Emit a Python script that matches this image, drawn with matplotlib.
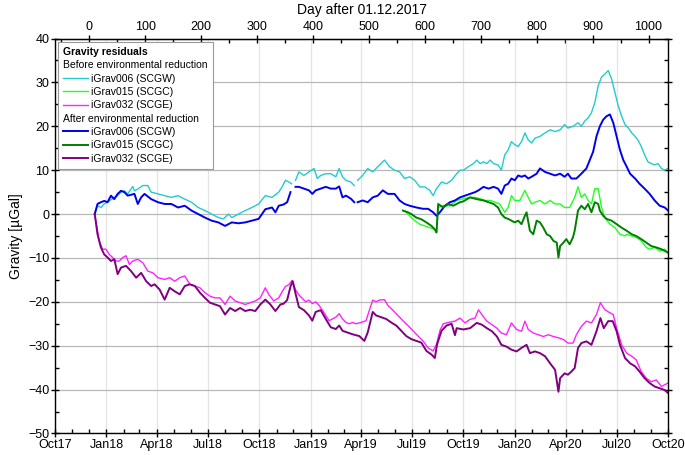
import numpy as np
import matplotlib
matplotlib.use("Agg")
import matplotlib.pyplot as plt
import matplotlib.dates as mdates
from matplotlib.lines import Line2D
from matplotlib.ticker import MultipleLocator, FixedLocator
from datetime import datetime

plt.rcParams['font.family'] = ['Liberation Sans', 'DejaVu Sans']

nan = np.nan

# days after 01.12.2017 and residuals in uGal
# iGrav006 (SCGW) before reduction
w_raw_day = [10, 15, 21, 27, 36, 45, 51, 57, 63, 69, 78, 81, 87, 96, 105, 111, 123, 135, 147, 159,
             171, 183, 195, 207, 219, 231, 240, 249, 255, 267, 279, 291, 303, 315, 327, 339,
             345, 351, 357, 362, 365, 369, 375, 384, 393, 402, 408, 414, 423, 432, 441, 447, 453,
             459, 468, 474, 477, 480, 489, 498, 507, 516, 528, 537, 546, 555, 564, 573, 582, 591,
             600, 609, 615, 621, 630, 639, 648, 657, 663, 669, 678, 687, 693, 699, 705, 711, 717,
             723, 731, 737, 743, 749, 755, 761, 767, 773, 779, 785, 791, 797, 806, 815, 824, 833,
             842, 850, 856, 865, 874, 880, 886, 892, 898, 904, 910, 916, 922, 928, 934, 940, 946,
             952, 958, 964, 970, 976, 981, 987, 993, 999, 1005, 1011, 1017, 1023, 1029, 1035]
w_raw_val = [0, 1.9, 1.5, 2.3, 3.0, 3.8, 4.2, 5.0, 5.3, 4.6, 6.3, 5.3, 5.7, 6.5, 6.5, 5.0, 4.6, 4.2, 3.8, 4.2,
             3.4, 2.7, 1.5, 0.8, 0.0, -0.8, -1.1, 0.0, -0.8, 0.0, 0.8, 1.5, 2.3, 4.2, 3.8, 5.0,
             6.2, 7.7, 7.3, 6.9, nan, 7.7, 9.6, 8.8, 9.6, 10.4, 8.1, 8.8, 9.2, 9.2, 8.5, 10.4, 8.5,
             7.7, 7.3, 6.5, nan, 7.7, 8.8, 10.4, 9.6, 10.8, 12.3, 10.8, 10.0, 9.6, 8.1, 8.5, 7.7, 6.2,
             6.2, 5.4, 4.2, 5.8, 7.3, 6.9, 7.7, 9.2, 10.0, 10.0, 10.8, 11.5, 12.3, 11.5, 11.9, 11.5, 12.3,
             11.5, 11.2, 10.0, 13.5, 14.6, 16.5, 15.8, 15.4, 16.5, 18.5, 16.9, 16.2, 17.3, 17.7, 18.5, 19.2, 18.8,
             19.2, 20.4, 19.6, 20.0, 20.8, 20.0, 21.2, 21.9, 23.1, 25.4, 29.2, 31.2, 31.9, 32.7, 30.8, 27.7, 24.6,
             22.3, 20.4, 19.6, 18.5, 17.7, 16.9, 15.4, 13.5, 11.9, 11.5, 11.2, 11.5, 10.4, 10.0, 10.4]

# iGrav015 (SCGC) before reduction
c_raw_day = [561, 567, 576, 582, 591, 600, 609, 618, 621, 624, 633, 645, 657, 669, 681, 690, 699, 708,
             717, 726, 734, 743, 749, 755, 761, 770, 779, 785, 791, 797, 806, 815, 824, 833, 842,
             850, 859, 868, 874, 880, 886, 892, 898, 904, 910, 916, 922, 931, 940, 949, 958, 961,
             970, 978, 987, 996, 1002, 1011, 1020, 1029, 1035]
c_raw_val = [0.8, 0.4, -0.8, -1.5, -2.3, -2.7, -3.1, -3.5, -4.0, 1.5, 1.9, 1.9, 3.1, 3.5, 3.8, 3.8, 3.5, 3.1,
             3.1, 2.7, 2.3, 0.4, 1.5, 4.2, 3.1, 3.1, 5.4, 3.8, 2.3, 2.7, 3.1, 2.3, 3.1, 2.3, 2.3,
             1.5, 1.5, 3.8, 6.2, 3.8, 4.6, 3.1, 2.3, 5.8, 5.8, 1.5, -0.8, -2.3, -3.1, -4.6, -5.0, -4.6,
             -5.0, -5.3, -6.1, -7.6, -8.0, -7.6, -8.4, -8.0, -8.8]

# iGrav032 (SCGE) before reduction
e_raw_day = [10, 14, 18, 24, 30, 36, 42, 48, 54, 60, 66, 72, 78, 87, 96, 105, 114, 123, 135, 144,
             153, 162, 171, 180, 189, 198, 207, 216, 225, 234, 243, 252, 261, 270, 279, 288, 297,
             306, 315, 321, 330, 339, 345, 351, 357, 363, 369, 375, 381, 387, 393, 399, 405, 411,
             417, 423, 429, 435, 441, 447, 453, 459, 465, 471, 477, 486, 495, 501, 507, 513, 519,
             528, 534, 543, 552, 561, 570, 579, 588, 597, 606, 615, 621, 627, 633, 642, 654, 663,
             672, 681, 690, 696, 702, 711, 720, 729, 737, 746, 755, 764, 773, 779, 785, 794, 803,
             812, 821, 830, 839, 848, 856, 865, 871, 880, 889, 898, 907, 914, 922, 931, 937, 943,
             952, 961, 970, 978, 987, 996, 1005, 1014, 1023, 1029, 1035]
e_raw_val = [0, -3.0, -6.1, -8.0, -8.0, -9.2, -9.9, -10.7, -10.7, -9.9, -9.5, -11.5, -10.7, -10.3, -11.1, -13.0, -13.4, -14.5, -14.9, -14.5,
             -15.3, -14.5, -14.1, -16.0, -16.4, -16.8, -17.9, -18.7, -19.1, -19.1, -20.6, -18.7, -19.8, -20.2, -20.6, -20.2, -19.8,
             -19.1, -16.8, -18.3, -19.8, -19.1, -17.7, -16.5, -16.1, -15.1, -17.3, -18.4, -19.2, -20.0, -19.6, -20.4, -20.0, -20.8,
             -21.9, -23.1, -24.3, -23.9, -23.5, -22.7, -23.9, -24.7, -25.0, -24.7, -25.0, -24.7, -24.3, -21.9, -19.6, -20.0, -19.6,
             -19.5, -20.8, -21.9, -23.1, -24.3, -25.4, -26.6, -27.8, -28.9, -30.5, -31.2, -29.7, -26.6, -25.0, -24.7, -24.4, -23.7,
             -24.8, -24.0, -23.7, -21.8, -22.9, -24.4, -25.2, -26.0, -27.1, -27.5, -24.8, -26.3, -26.7, -24.4, -26.3, -27.1, -27.5,
             -27.9, -27.5, -27.9, -28.2, -28.6, -29.4, -29.4, -27.5, -25.6, -24.4, -24.8, -22.9, -20.2, -21.8, -22.5, -22.9, -26.0,
             -29.8, -31.7, -32.4, -33.2, -35.9, -37.4, -38.2, -37.8, -39.3, -38.9, -38.5]

# iGrav006 (SCGW) after reduction
w_red_day = [10, 15, 21, 27, 33, 39, 45, 51, 57, 63, 69, 81, 87, 93, 99, 111, 123, 135, 147, 159,
             171, 183, 195, 207, 219, 231, 243, 255, 267, 279, 291, 303, 315, 327, 333, 339,
             348, 354, 360, 365, 369, 375, 384, 393, 399, 405, 414, 423, 432, 441, 447, 453, 459,
             468, 474, 477, 480, 489, 498, 507, 516, 525, 534, 546, 555, 564, 573, 585, 597, 606,
             615, 621, 627, 636, 645, 654, 663, 672, 681, 690, 696, 705, 714, 723, 731, 737, 743,
             749, 755, 761, 767, 773, 779, 785, 791, 800, 806, 815, 824, 833, 842, 850, 856, 862,
             871, 880, 889, 895, 901, 907, 913, 919, 925, 931, 937, 943, 949, 955, 961, 967, 976,
             984, 993, 1002, 1011, 1020, 1029, 1035]
w_red_val = [0, 2.3, 2.7, 3.0, 2.7, 4.2, 3.4, 4.6, 5.3, 5.0, 4.2, 4.6, 2.3, 3.8, 4.6, 3.4, 2.7, 2.3, 2.3, 1.5,
             1.9, 0.8, 0.0, -0.8, -1.5, -1.9, -2.7, -1.9, -2.1, -1.9, -1.5, -1.1, 1.1, 1.5, 0.4, 1.9,
             2.2, 2.7, 5.0, nan, 6.2, 6.2, 5.8, 5.4, 4.6, 5.4, 5.8, 6.2, 5.8, 5.8, 6.3, 3.8, 4.2,
             3.5, 2.7, nan, 2.7, 3.1, 2.7, 3.8, 4.2, 5.4, 4.6, 4.6, 3.1, 2.3, 1.9, 1.5, 1.2, 1.2,
             0.4, -0.4, 0.4, 1.9, 2.7, 3.1, 3.8, 4.2, 4.6, 5.0, 5.4, 6.2, 5.8, 6.2, 5.8, 4.6, 6.5,
             6.9, 8.1, 7.7, 8.8, 8.5, 8.8, 8.1, 8.5, 9.2, 10.4, 9.6, 9.2, 8.8, 9.2, 8.5, 9.2, 8.1,
             8.1, 9.2, 10.4, 12.3, 14.2, 17.7, 20.0, 21.5, 22.3, 22.7, 20.8, 17.7, 14.6, 12.3, 10.8, 9.2, 8.1,
             6.9, 5.8, 4.6, 3.1, 1.9, 1.5, 0.8]

# iGrav015 (SCGC) after reduction
c_red_day = [561, 570, 576, 585, 594, 603, 612, 618, 621, 624, 633, 642, 651, 663, 669, 681, 693, 705,
             714, 723, 731, 737, 743, 749, 761, 767, 773, 779, 782, 788, 794, 800, 806, 812, 818,
             824, 830, 836, 839, 842, 848, 853, 859, 865, 868, 874, 880, 886, 892, 898, 904, 910,
             913, 919, 925, 934, 943, 952, 961, 970, 978, 987, 996, 1005, 1014, 1023, 1029, 1035]
c_red_val = [0.8, 0.4, 0.0, -0.8, -1.2, -1.9, -2.7, -3.5, -4.2, 2.3, 1.5, 2.3, 1.9, 2.7, 2.9, 3.8, 3.4, 3.1,
             2.7, 2.3, 1.5, 0.0, -0.8, -1.1, -1.9, -1.5, -2.3, -0.4, 0.4, -3.8, -4.6, -1.5, -1.9, -3.1, -4.6,
             -5.0, -6.1, -6.5, -9.9, -7.3, -6.5, -5.7, -6.9, -5.3, -3.8, 0.8, 1.9, 1.1, 2.3, 0.4, 2.7, 2.3,
             0.8, -0.4, -1.1, -1.5, -2.3, -3.1, -3.8, -4.6, -5.0, -5.7, -6.5, -7.3, -7.6, -8.0, -8.4, -8.8]

# iGrav032 (SCGE) after reduction
e_red_day = [10, 15, 21, 27, 33, 39, 45, 51, 57, 66, 75, 84, 93, 102, 111, 117, 126, 135, 144, 153,
             162, 171, 180, 189, 198, 207, 216, 225, 234, 243, 252, 261, 270, 279, 288, 297, 306,
             315, 324, 333, 342, 348, 354, 360, 364, 369, 375, 384, 393, 399, 405, 414, 423, 432,
             441, 447, 453, 462, 471, 483, 492, 498, 507, 513, 522, 531, 540, 549, 558, 567, 576,
             585, 594, 603, 612, 618, 622, 630, 639, 648, 654, 657, 669, 681, 693, 702, 711, 720,
             729, 737, 746, 755, 764, 773, 782, 788, 797, 806, 815, 824, 833, 839, 842, 850, 856,
             862, 868, 874, 880, 889, 898, 907, 914, 920, 928, 936, 943, 949, 958, 967, 976, 984,
             993, 1002, 1011, 1020, 1029, 1035]
e_red_val = [0, -4.6, -7.6, -9.2, -9.9, -10.7, -10.3, -13.7, -12.2, -11.8, -13.0, -14.5, -13.4, -15.3, -16.4, -16.0, -17.2, -19.5, -16.8, -17.6,
             -18.3, -16.4, -16.0, -16.4, -17.9, -19.1, -20.2, -20.6, -21.0, -22.9, -21.4, -22.1, -21.4, -22.1, -21.8, -22.1, -20.6,
             -19.5, -20.6, -22.1, -20.6, -20.4, -19.6, -16.5, -15.3, -18.1, -21.2, -21.9, -23.1, -24.3, -22.3, -21.9, -23.9, -25.8,
             -26.2, -25.4, -26.6, -27.0, -27.4, -27.8, -28.9, -27.0, -22.3, -23.1, -23.5, -23.9, -24.7, -25.4, -26.6, -27.8, -28.5,
             -28.9, -29.3, -31.2, -32.0, -32.8, -29.7, -26.6, -25.4, -25.0, -27.6, -26.0, -26.3, -26.0, -24.8, -25.2, -26.0, -26.7,
             -27.9, -29.8, -30.2, -30.9, -31.3, -30.5, -29.8, -31.7, -31.3, -31.7, -32.4, -34.0, -35.5, -40.5, -37.4, -36.3, -36.6,
             -35.9, -35.1, -30.5, -29.4, -29.0, -29.8, -26.7, -23.7, -26.0, -24.4, -24.4, -26.7, -29.8, -32.8, -34.0, -34.7, -35.9,
             -37.4, -38.5, -39.3, -39.7, -40.1, -40.8]

labels = ['iGrav006 (SCGW)', 'iGrav015 (SCGC)', 'iGrav032 (SCGE)']
raw_colors = ['#22cccc', '#22ff22', '#ff22ff']
red_colors = ['#0000ee', '#008000', '#800080']
day_ticks = list(range(0, 1001, 100))

d0 = mdates.date2num(datetime(2017, 12, 1))

fig = plt.figure(figsize=(6.85, 4.55), dpi=100)
ax = fig.add_axes([0.0803, 0.0473, 0.895, 0.868])

raw_sets = [(w_raw_day, w_raw_val), (c_raw_day, c_raw_val), (e_raw_day, e_raw_val)]
red_sets = [(w_red_day, w_red_val), (c_red_day, c_red_val), (e_red_day, e_red_val)]

raw_lines = []
for (d, v), col in zip(raw_sets, raw_colors):
    ln, = ax.plot(np.array(d) + d0, v, color=col, lw=1.0)
    raw_lines.append(ln)
red_lines = []
for (d, v), col in zip(red_sets, red_colors):
    ln, = ax.plot(np.array(d) + d0, v, color=col, lw=1.4)
    red_lines.append(ln)

ax.set_xlim(mdates.date2num(datetime(2017, 10, 1)), mdates.date2num(datetime(2020, 10, 1)))
ax.set_ylim(-50, 40)
ax.xaxis.set_major_locator(mdates.MonthLocator(bymonth=[1, 4, 7, 10]))
ax.xaxis.set_major_formatter(mdates.DateFormatter('%b%y'))
ax.xaxis.set_minor_locator(mdates.MonthLocator())
ax.yaxis.set_major_locator(MultipleLocator(10))
ax.yaxis.set_minor_locator(MultipleLocator(5))

ax.yaxis.grid(True, which='major', color='#b8b8b8', lw=0.9)
ax.xaxis.grid(True, which='major', color='#e4e4e4', lw=0.9)
ax.set_axisbelow(True)

ax.tick_params(which='major', direction='inout', length=6, width=1, labelsize=9,
               right=True, top=False, pad=1)
ax.tick_params(which='minor', direction='in', length=3, width=1, right=True, top=False)
for s in ax.spines.values():
    s.set_linewidth(1.0)

ax.set_ylabel('Gravity [µGal]', fontsize=10, labelpad=4)

top = ax.secondary_xaxis('top', functions=(lambda x: x - d0, lambda x: x + d0))
top.xaxis.set_major_locator(FixedLocator(day_ticks))
top.xaxis.set_minor_locator(FixedLocator(list(range(-50, 1001, 50))))
top.tick_params(which='major', direction='inout', length=6, width=1, labelsize=9, pad=1)
top.tick_params(which='minor', direction='in', length=3, width=1)
top.set_xlabel('Day after 01.12.2017', fontsize=10, labelpad=5)

# legend with two header rows
blank = Line2D([], [], lw=0)
handles = [blank] + raw_lines + [blank] + red_lines
texts = ['Before environmental reduction'] + labels + ['After environmental reduction'] + labels
leg = ax.legend(handles, texts, loc='upper left', bbox_to_anchor=(0.0, 1.0),
                title='Gravity residuals', alignment='left', fontsize=7.5,
                title_fontproperties={'weight': 'bold', 'size': 7.5},
                handlelength=2.4, handletextpad=0.3, labelspacing=0.32,
                borderpad=0.5, borderaxespad=0.3, frameon=True, fancybox=False,
                edgecolor='#999999', framealpha=1.0)
leg.get_frame().set_linewidth(0.8)
try:
    rows = leg._legend_handle_box.get_children()[0].get_children()
    for i in (0, 4):
        rows[i].sep = 0
        rows[i].get_children()[0].width = 0
except Exception:
    pass

fig.savefig('out.png', dpi=100)
